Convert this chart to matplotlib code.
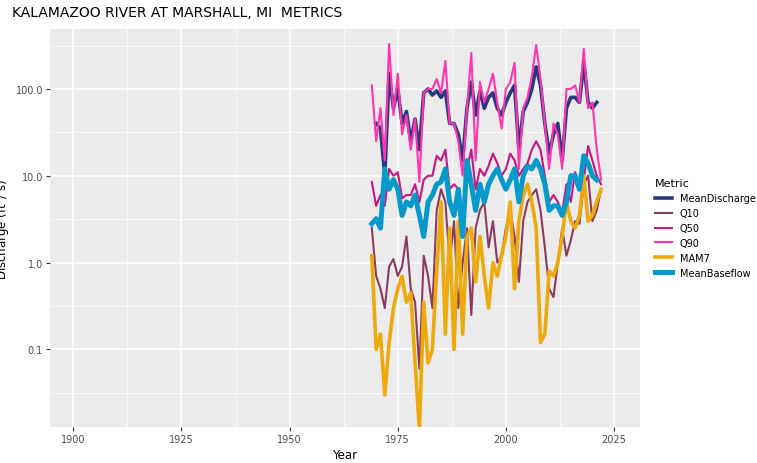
import matplotlib
matplotlib.use("Agg")
import matplotlib.pyplot as plt
import numpy as np

years = list(range(1969, 2023))
mean_discharge = [None,40,35,10,150,60,100,40,55,25,45,20,90,100,85,95,80,95,40,40,30,15,60,120,50,95,60,80,90,60,50,70,90,110,20,55,70,100,180,110,40,18,30,40,15,60,80,80,70,200,70,60,70,None]
q10 = [2.5,0.7,0.5,0.3,0.9,1.1,0.7,0.9,2,0.5,0.35,0.06,1.2,0.7,0.3,4,7,5,1,3,0.3,1,2.5,0.25,2.5,4,5,1.5,3,1,1.2,2.5,4,2,0.6,3,5,6,7,4,1.5,0.5,0.4,1,2.5,1.2,1.8,3,2.8,8,10,3,4,7]
q50 = [8.5,4.5,6,4.5,12,10,11,5.5,6,6,8,5,9,10,10,17,15,20,7,8,7,2.2,12,20,7,12,10,13,18,14,10,12,18,15,10,12,14,20,25,20,10,5,6,5,3.8,8,5,11,8,9,22,15,10,8]
q90 = [110,25,60,15,330,50,150,30,50,20,45,8.5,90,100,100,130,90,210,40,40,25,10,60,260,15,120,70,100,150,70,35,100,120,200,12,60,80,140,320,130,40,12,40,30,12,100,100,110,70,290,60,70,20,9]
mam7 = [1.2,0.1,0.15,0.03,0.12,0.3,0.5,0.7,0.35,0.45,0.07,0.012,0.35,0.07,0.1,0.8,5,0.15,2.5,0.1,3,0.15,2,2.5,0.6,2,0.7,0.3,1,0.7,1.2,2,5,0.5,3,6,8,5,2.5,0.12,0.15,0.8,0.7,1,2,5,3,2.5,3.5,10,3,3.5,5,7]
baseflow = [2.8,3.2,2.5,12,7,9,7,3.5,5,4.5,6,3.5,2,5,6,8,8.5,12,5,3.5,7,2,15,8,4,8,5,8,10,12,9,7,9,12,5,10,13,12,15,12,8,4,4.5,4.5,3.5,5,10,10,7,17,14,10,9,None]

series = [("MeanDischarge", mean_discharge, "#27397f", 2.6),
          ("Q10", q10, "#8b3a62", 1.5),
          ("Q50", q50, "#c8157f", 1.5),
          ("Q90", q90, "#ff35b0", 1.5),
          ("MAM7", mam7, "#eea90c", 2.6),
          ("MeanBaseflow", baseflow, "#0599cc", 3.6)]

fig = plt.figure(figsize=(7.57, 4.64), dpi=100)
ax = fig.add_axes([50/757, 36/464, 590/757, 398/464])
ax.set_facecolor("#ebebeb")
for name, vals, c, lw in series:
    v = np.array([np.nan if x is None else x for x in vals], dtype=float)
    ax.plot(years, v, color=c, lw=lw, label=name)
ax.set_yscale("log")
ax.set_ylim(0.0128, 490)
ax.set_xlim(1894.6, 2031)
ax.set_xticks([1900, 1925, 1950, 1975, 2000, 2025])
ax.set_xticks([1912.5, 1937.5, 1962.5, 1987.5, 2012.5], minor=True)
ax.set_yticks([0.1, 1, 10, 100])
ax.set_yticklabels(["0.1", "1.0", "10.0", "100.0"])
ax.yaxis.set_minor_locator(matplotlib.ticker.FixedLocator([0.0316, 0.316, 3.16, 31.6, 316]))
ax.yaxis.set_minor_formatter(matplotlib.ticker.NullFormatter())
ax.grid(which="major", color="white", lw=1.1)
ax.grid(which="minor", color="white", lw=0.5)
ax.set_axisbelow(True)
for s in ax.spines.values():
    s.set_visible(False)
ax.tick_params(which="major", length=3, color="#333333", labelsize=7, labelcolor="#4d4d4d", pad=2)
ax.tick_params(which="minor", length=0)
ax.set_xlabel("Year", fontsize=8.5)
ax.xaxis.set_label_coords(0.5, -0.052)
ax.set_ylabel("Discharge (ft$^3$/ s)", fontsize=8.5)
ax.yaxis.set_label_coords(-0.062, 0.5)
fig.text(12/757, 1-13/464, "KALAMAZOO RIVER AT MARSHALL, MI  METRICS", fontsize=10, va="center")
leg = ax.legend(loc="center left", bbox_to_anchor=(1.01, 0.5), title="Metric", frameon=False,
                fontsize=7, title_fontsize=8, handlelength=1.8)
leg._legend_box.align = "left"
fig.savefig("out.png", dpi=100)
